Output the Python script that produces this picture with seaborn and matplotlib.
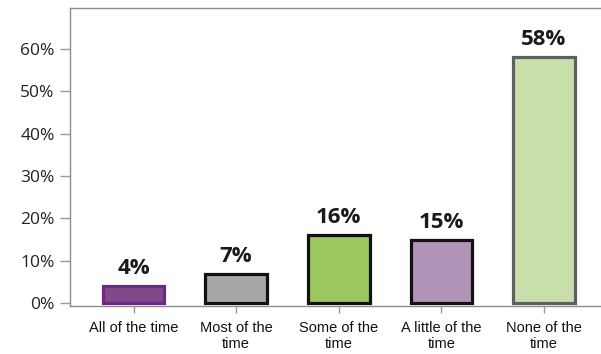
import matplotlib
matplotlib.use("Agg")
import matplotlib.pyplot as plt
import seaborn as sns
import pandas as pd

# Data
categories = ["All of the time", "Most of the\ntime", "Some of the\ntime",
              "A little of the\ntime", "None of the\ntime"]
values = [4, 7, 16, 15, 58]
labels = ["4%", "7%", "16%", "15%", "58%"]
face_colors = ["#7E4A8A", "#A6A6A6", "#9BC75F", "#B293B8", "#C9DFAA"]
edge_colors = ["#6B2A7C", "#111111", "#111111", "#111111", "#5F5F5F"]
yticks = [0, 10, 20, 30, 40, 50, 60]

df = pd.DataFrame({"category": categories, "value": values})

sns.set_style("white")
plt.rcParams["font.family"] = ["Open Sans", "DejaVu Sans"]

fig = plt.figure(figsize=(6.01, 3.54), dpi=100)
ax = fig.add_axes([70 / 601, 48 / 354, 1 - 70 / 601, (306 - 8) / 354])

sns.barplot(data=df, x="category", y="value", hue="category",
            palette=face_colors, legend=False, width=0.6, saturation=1, ax=ax)

for bar, ec in zip(ax.patches, edge_colors):
    bar.set_edgecolor(ec)
    bar.set_linewidth(2.3)

for cont, lab in zip(ax.containers, labels):
    ax.bar_label(cont, labels=[lab], padding=5, fontsize=16,
                 fontweight="bold", color="#1a1a1a", family="Open Sans")

ax.set_xlim(-0.619, 4.556)
ax.set_ylim(-0.64, 69.6)
ax.set_yticks(yticks)
ax.set_yticklabels([f"{t}%" for t in yticks], fontsize=12.5, color="#222222")
ax.set_xticks(range(len(categories)))
ax.set_xticklabels(categories, fontsize=10.5, color="#111111",
                   family="Liberation Sans", linespacing=1.15)
ax.set_xlabel("")
ax.set_ylabel("")

ax.tick_params(axis="y", length=7, width=1, color="#999999", left=True, pad=4)
ax.tick_params(axis="x", length=5, width=1, color="#999999", bottom=True, pad=6)

for side in ["left", "top", "bottom"]:
    ax.spines[side].set_color("#8c8c8c")
    ax.spines[side].set_linewidth(1)
ax.spines["right"].set_visible(False)

fig.savefig("out.png", dpi=100)
